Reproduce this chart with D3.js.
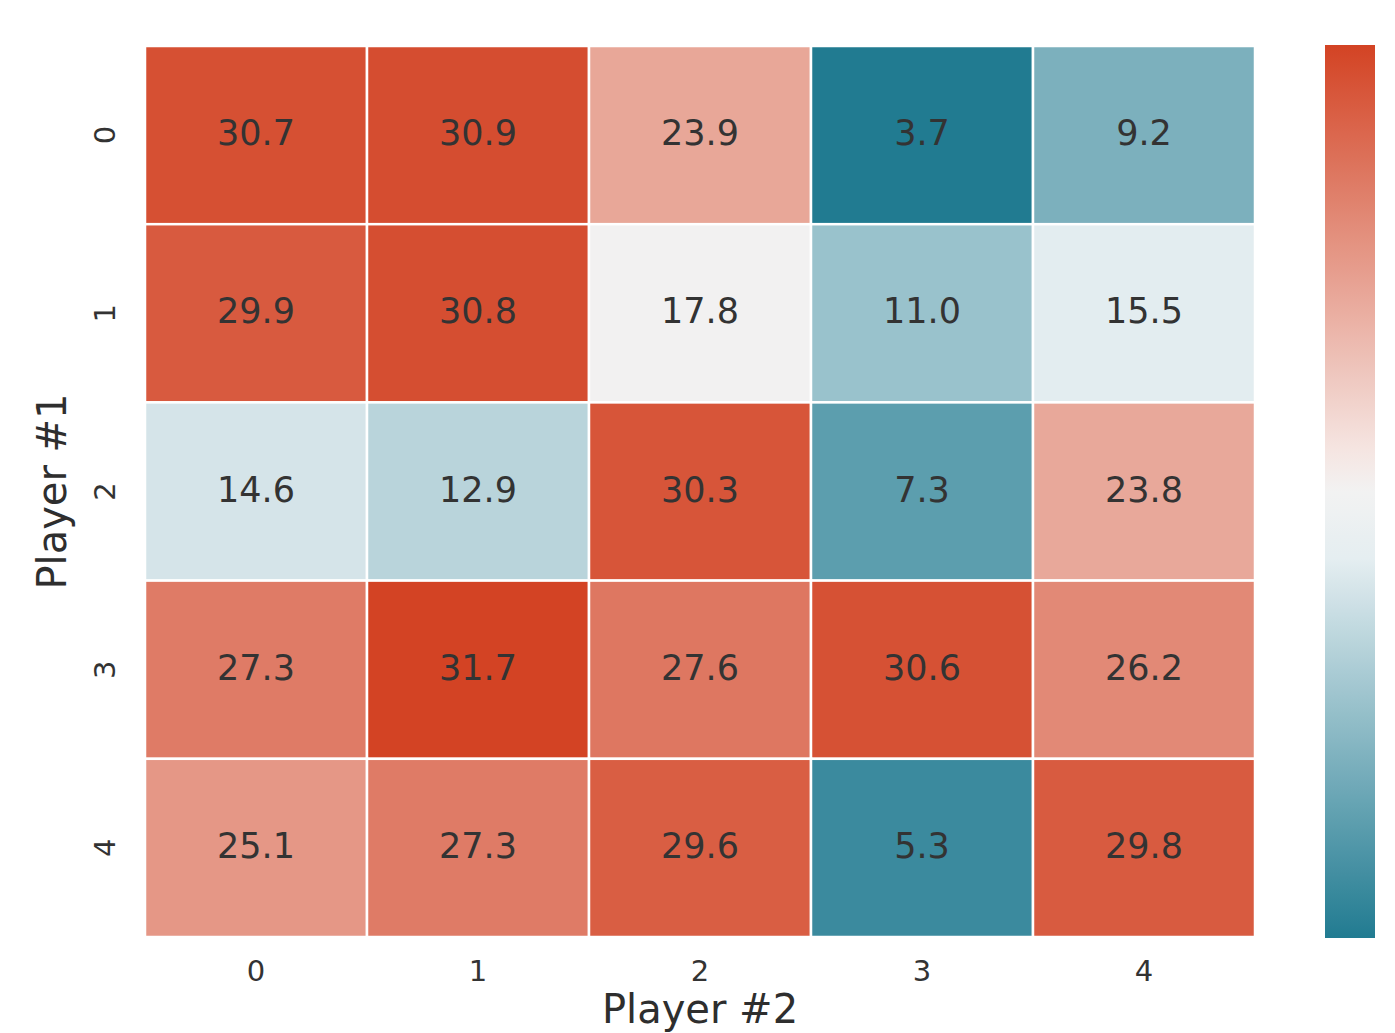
<!DOCTYPE html>
<html>
<head>
<meta charset="utf-8">
<script src="https://cdn.jsdelivr.net/npm/d3@7"></script>
<style>
  html, body { margin: 0; padding: 0; background: #ffffff; }
  svg { display: block; }
  text { font-family: "DejaVu Sans", sans-serif; fill: #2e2e2e; }
</style>
</head>
<body>
<svg id="chart" width="1395" height="1033"></svg>
<script>
// Categories and values
const rowLabels = ["0", "1", "2", "3", "4"];   // Player #1
const colLabels = ["0", "1", "2", "3", "4"];   // Player #2
const values = [
  [30.7, 30.9, 23.9, 3.7, 9.2],
  [29.9, 30.8, 17.8, 11.0, 15.5],
  [14.6, 12.9, 30.3, 7.3, 23.8],
  [27.3, 31.7, 27.6, 30.6, 26.2],
  [25.1, 27.3, 29.6, 5.3, 29.8]
];
const xTitle = "Player #2";
const yTitle = "Player #1";

const svg = d3.select("#chart");
const plot = { left: 145, right: 1255, top: 46, bottom: 937 };
const bar = { left: 1325, width: 50, top: 45, bottom: 938 };

const flat = values.flat();
const vmin = d3.min(flat), vmax = d3.max(flat);
const vmid = (vmin + vmax) / 2;
const half = (vmax - vmin) / 2;

// Diverging palette: saturated blue → pale tinted gray → light center → pale pink → red
const color = d3.scaleLinear()
  .domain([vmin, vmid - 0.15 * half, vmid, vmid + 0.1 * half, vmax])
  .range(["#217b91", "#e5eef1", "#f2f2f2", "#f5e4e0", "#d34324"])
  .interpolate(d3.interpolateRgb);

const x = d3.scaleBand().domain(colLabels).range([plot.left, plot.right]);
const y = d3.scaleBand().domain(rowLabels).range([plot.top, plot.bottom]);

const cells = [];
values.forEach((row, i) => row.forEach((v, j) => cells.push({ r: rowLabels[i], c: colLabels[j], v })));

const g = svg.append("g");
g.selectAll("rect.cell").data(cells).join("rect")
  .attr("class", "cell")
  .attr("x", d => x(d.c))
  .attr("y", d => y(d.r))
  .attr("width", x.bandwidth())
  .attr("height", y.bandwidth())
  .attr("fill", d => color(d.v))
  .attr("stroke", "#ffffff")
  .attr("stroke-width", 2.5);

g.selectAll("text.annot").data(cells).join("text")
  .attr("class", "annot")
  .attr("x", d => x(d.c) + x.bandwidth() / 2)
  .attr("y", d => y(d.r) + y.bandwidth() / 2 - 2)
  .attr("text-anchor", "middle")
  .attr("dominant-baseline", "central")
  .style("font-size", "35px")
  .style("fill", "#333333")
  .text(d => d.v.toFixed(1));

// X tick labels
const xAxis = d3.axisBottom(x).tickSize(0).tickPadding(0);
const xg = svg.append("g").attr("transform", `translate(0, 981)`).call(xAxis);
xg.select(".domain").remove();
xg.selectAll("text")
  .attr("y", 0).attr("dy", 0)
  .style("font-size", "29px")
  .style("fill", "#333333");

// Y tick labels, rotated
const yAxis = d3.axisLeft(y).tickSize(0).tickPadding(0);
const yg = svg.append("g").attr("transform", `translate(105, 0)`).call(yAxis);
yg.select(".domain").remove();
yg.selectAll("text")
  .attr("x", 0).attr("dy", 0)
  .attr("text-anchor", "middle")
  .attr("dominant-baseline", "central")
  .attr("transform", "rotate(-90)")
  .style("font-size", "29px")
  .style("fill", "#333333");

// Axis titles
svg.append("text")
  .attr("x", (plot.left + plot.right) / 2)
  .attr("y", 1023)
  .attr("text-anchor", "middle")
  .style("font-size", "40px")
  .text(xTitle);

svg.append("text")
  .attr("transform", `translate(66, ${(plot.top + plot.bottom) / 2}) rotate(-90)`)
  .attr("text-anchor", "middle")
  .style("font-size", "40px")
  .text(yTitle);

// Colour bar
const defs = svg.append("defs");
const grad = defs.append("linearGradient")
  .attr("id", "cbar")
  .attr("x1", "0").attr("y1", "1").attr("x2", "0").attr("y2", "0");
const stops = d3.range(0, 1.0001, 0.025);
grad.selectAll("stop").data(stops).join("stop")
  .attr("offset", d => d)
  .attr("stop-color", d => color(vmin + d * (vmax - vmin)));

svg.append("rect")
  .attr("x", bar.left)
  .attr("y", bar.top)
  .attr("width", bar.width)
  .attr("height", bar.bottom - bar.top)
  .attr("fill", "url(#cbar)");
</script>
</body>
</html>
